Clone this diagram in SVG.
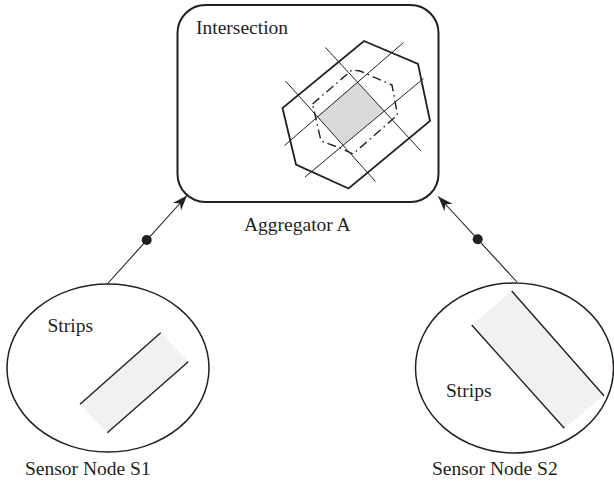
<svg xmlns="http://www.w3.org/2000/svg" width="614" height="486" viewBox="0 0 614 486">
<defs>
<style>
text{font-family:"Liberation Serif","Times New Roman",serif;font-size:19.5px;fill:#231f20}
.thin{stroke:#231f20;stroke-width:1;fill:none}
.strip{stroke:#231f20;stroke-width:1.4;fill:none}
.conn{stroke:#231f20;stroke-width:1.1;fill:none}
</style>
<marker id="arr" viewBox="-16 -7 18 14" refX="0" refY="0" markerWidth="18" markerHeight="14" markerUnits="userSpaceOnUse" orient="auto">
<path d="M0,0 L-15,-5.5 L-10.5,0 L-15,5.5 Z" fill="#231f20"/>
</marker>
</defs>
<rect width="614" height="486" fill="#fff"/>
<g id="aggregator">
<rect x="177.5" y="5" width="261" height="197" rx="28" ry="28" fill="none" stroke="#231f20" stroke-width="2"/>
<text x="196" y="34">Intersection</text>
<polygon points="357.3,81.9 384.1,111 343,145.1 317.4,116.5" fill="#d9d9db"/>
<polygon points="364,41 418,64 430,121 348.5,188.5 296,164.5 282.5,108" fill="none" stroke="#231f20" stroke-width="1.8"/>
<line class="thin" x1="285.5" y1="81" x2="375.5" y2="181.5"/>
<line class="thin" x1="325.5" y1="47.5" x2="421" y2="151"/>
<line class="thin" x1="284.5" y1="145.5" x2="403.5" y2="42.5"/>
<line class="thin" x1="305" y1="177" x2="423.5" y2="78.5"/>
<polygon points="312.5,104 352,70 360,71 392,85 397.5,115 353,154 340,148 321,141" fill="none" stroke="#231f20" stroke-width="1.4" stroke-dasharray="9 4 1.5 4"/>
<text x="244" y="231">Aggregator A</text>
</g>
<g id="sensor-s1">
<polygon points="80,404.3 160.7,332.7 188.3,361.7 107.3,432.7" fill="#f0f1f2"/>
<line class="strip" x1="80" y1="404.3" x2="160.7" y2="332.7"/>
<line class="strip" x1="107.3" y1="432.7" x2="188.3" y2="361.7"/>
<ellipse cx="108" cy="368" rx="101" ry="84" fill="none" stroke="#231f20" stroke-width="1.5"/>
<text x="47.5" y="331.5">Strips</text>
<text x="25" y="475">Sensor Node S1</text>
</g>
<g id="sensor-s2">
<polygon points="471.7,325 511.7,291 604,395.7 564.3,428.3" fill="#f0f1f3"/>
<line class="strip" x1="471.7" y1="325" x2="564.3" y2="428.3"/>
<line class="strip" x1="511.7" y1="291" x2="604" y2="395.7"/>
<ellipse cx="514.5" cy="368" rx="99" ry="85" fill="none" stroke="#231f20" stroke-width="1.5"/>
<text x="446" y="397">Strips</text>
<text x="432" y="475">Sensor Node S2</text>
</g>
<g id="connectors">
<line class="conn" x1="107.3" y1="284" x2="187" y2="195.5" marker-end="url(#arr)"/>
<circle cx="146.7" cy="240" r="5" fill="#231f20"/>
<line class="conn" x1="517" y1="282" x2="438.3" y2="196.5" marker-end="url(#arr)"/>
<circle cx="477.7" cy="239.3" r="5" fill="#231f20"/>
</g>
</svg>
